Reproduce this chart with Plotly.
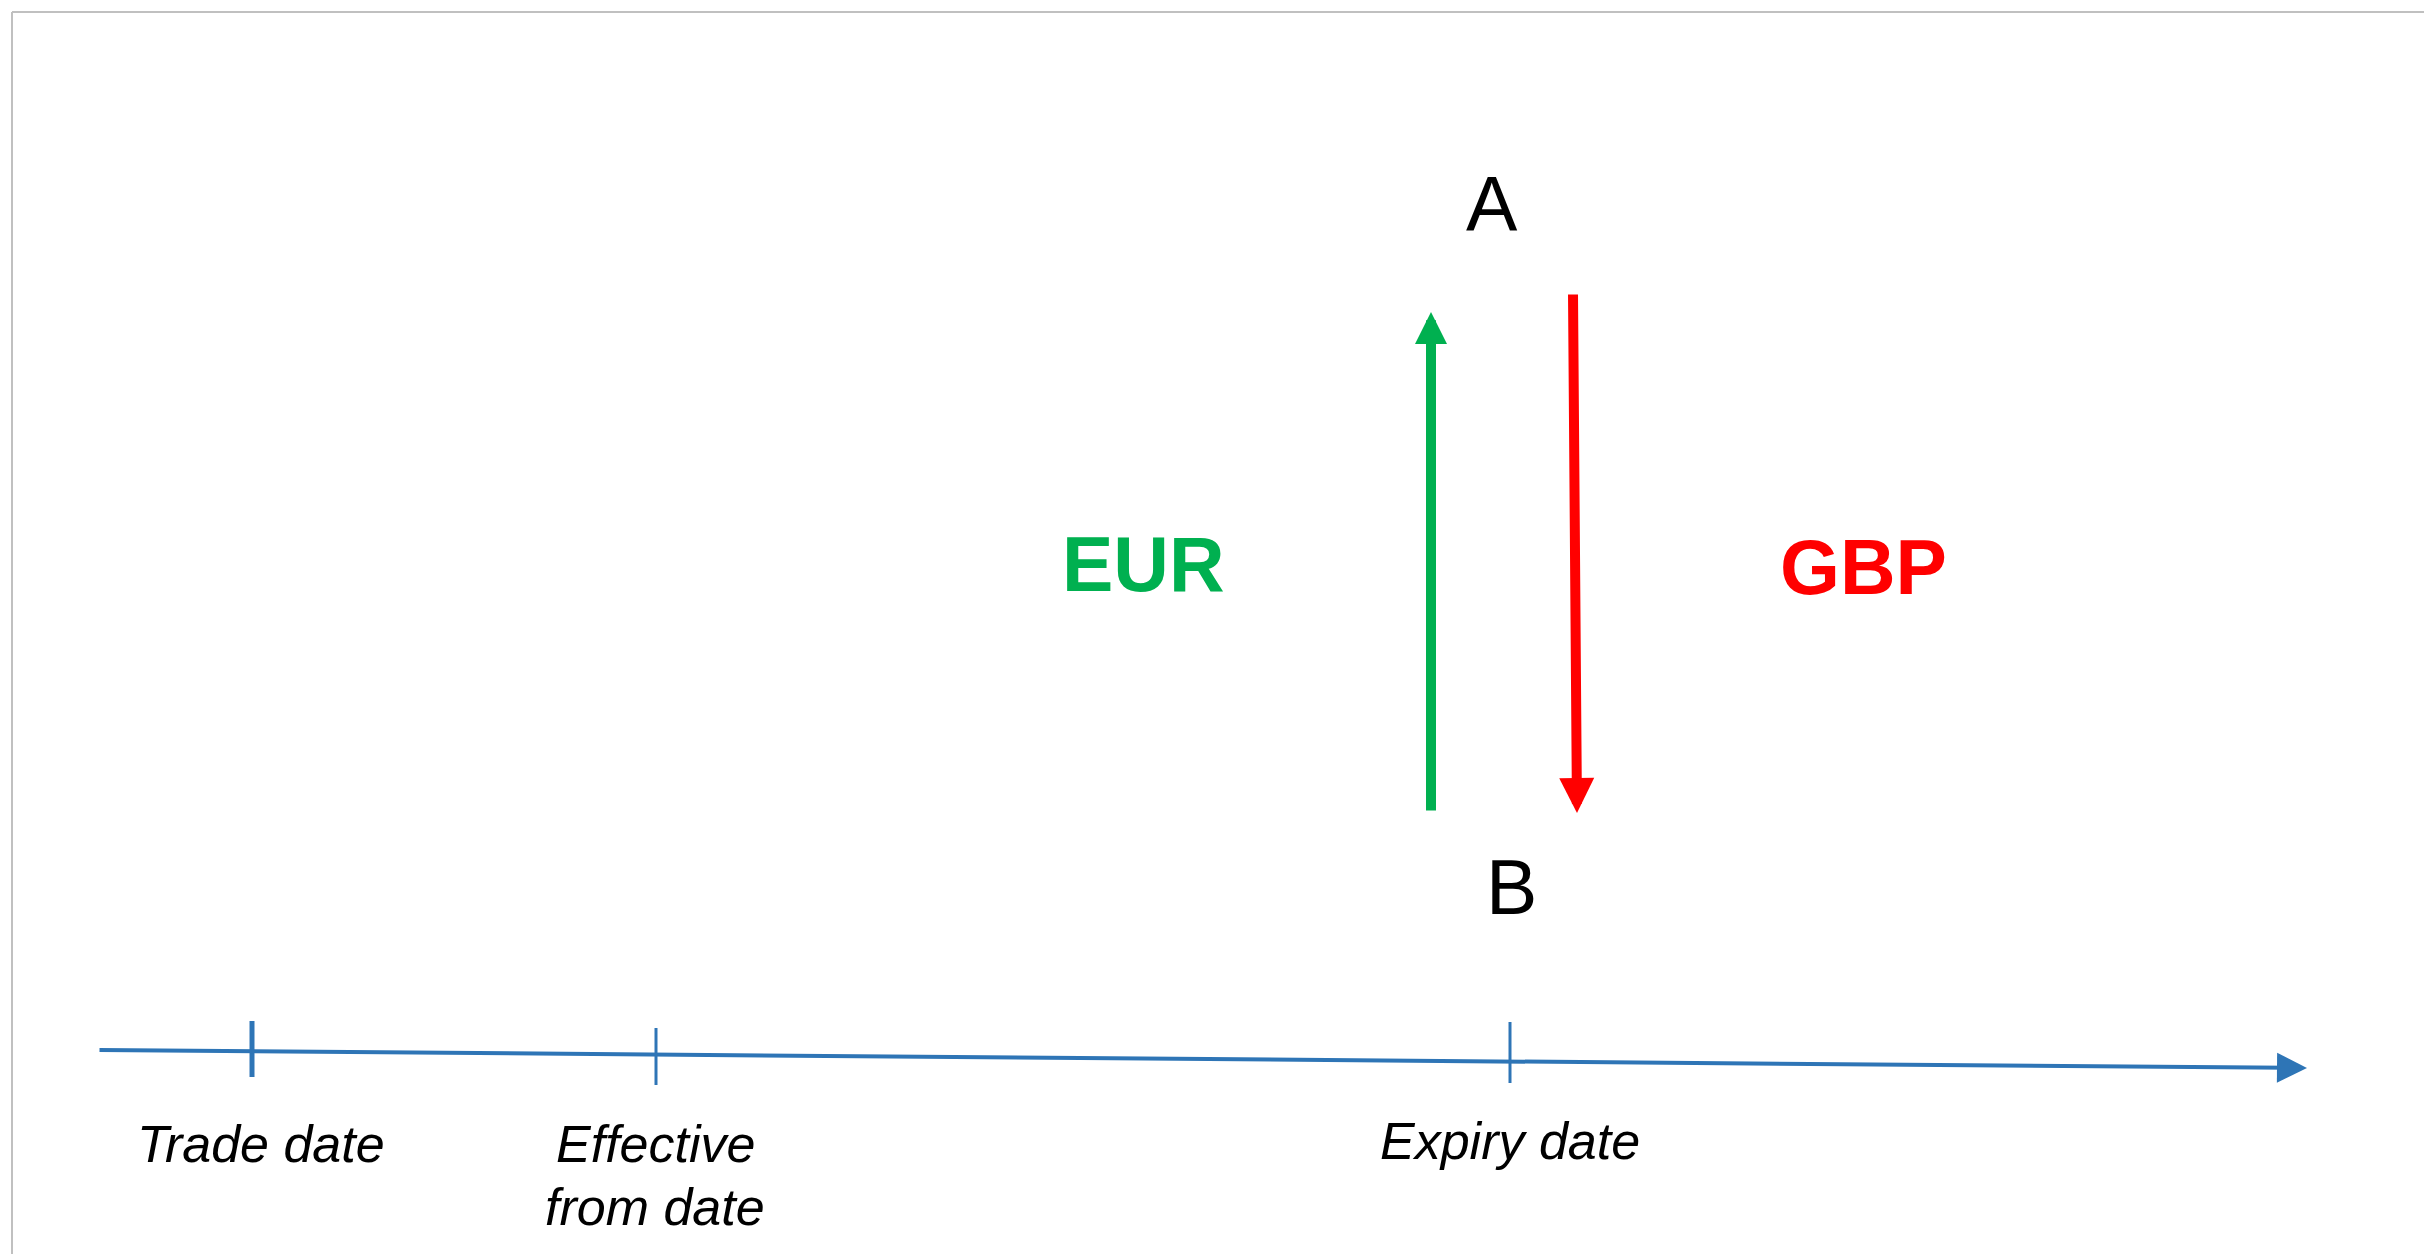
import plotly.graph_objects as go

W, H = 2424, 1254

# ---- timeline (diagram coordinates, y grows downward) ----
timeline_x = [98, 2307]
timeline_y = [1050, 1068]
timeline_color = "#2E75B6"

event_labels = ["Trade date", "Effective<br>from date", "Expiry date"]
event_x = [252, 656, 1510]
event_tick_top = [1021, 1028, 1022]
event_tick_bottom = [1077, 1085, 1083]
event_tick_width = [5, 3, 3]
label_x = [261, 655, 1510]
label_top = [1113, 1113, 1110]
label_line_step = 63

# ---- cash flows at expiry ----
party_names = ["A", "B"]
party_x = [1492, 1511]
party_y = [204, 887]

flow_ccy = ["EUR", "GBP"]
flow_colors = ["#00B050", "#FF0000"]
flow_tail_x = [1431, 1573]
flow_tail_y = [812, 293]
flow_head_x = [1431, 1577]
flow_head_y = [312, 813]
flow_head_size = [0.64, 0.7]
ccy_label_x = [1143, 1863]
ccy_label_y = [564, 567]

fig = go.Figure()

# event ticks
for xv, t, b, w in zip(event_x, event_tick_top, event_tick_bottom, event_tick_width):
    fig.add_trace(go.Scatter(x=[xv, xv], y=[t, b], mode="lines",
                             line=dict(color=timeline_color, width=w),
                             hoverinfo="skip", showlegend=False))

annotations = []
# timeline arrow
annotations.append(dict(x=timeline_x[1], y=timeline_y[1], ax=timeline_x[0], ay=timeline_y[0],
                        xref="x", yref="y", axref="x", ayref="y", text="",
                        showarrow=True, arrowhead=2, arrowwidth=4, arrowsize=1.5,
                        arrowcolor=timeline_color, standoff=0, startstandoff=0))
# event labels (each line placed separately for tighter line spacing)
for xv, yv, lab in zip(label_x, label_top, event_labels):
    for i, line in enumerate(lab.split("<br>")):
        annotations.append(dict(x=xv, y=yv + i * label_line_step, xref="x", yref="y",
                                text=line, showarrow=False,
                                xanchor="center", yanchor="top", align="center",
                                font=dict(family="Liberation Sans, Arial", size=52,
                                          color="black", style="italic")))
# flow arrows
for hx, hy, tx, ty, c, s in zip(flow_head_x, flow_head_y, flow_tail_x, flow_tail_y,
                                flow_colors, flow_head_size):
    annotations.append(dict(x=hx, y=hy, ax=tx, ay=ty, xref="x", yref="y", axref="x", ayref="y",
                            text="", showarrow=True, arrowhead=2, arrowwidth=10, arrowsize=s,
                            arrowcolor=c, standoff=0, startstandoff=0))
# currency labels
for xv, yv, lab, c in zip(ccy_label_x, ccy_label_y, flow_ccy, flow_colors):
    annotations.append(dict(x=xv, y=yv, xref="x", yref="y", text="<b>%s</b>" % lab,
                            showarrow=False, xanchor="center", yanchor="middle",
                            font=dict(family="Liberation Sans, Arial", size=77, color=c)))
# party labels
for xv, yv, lab in zip(party_x, party_y, party_names):
    annotations.append(dict(x=xv, y=yv, xref="x", yref="y", text=lab, showarrow=False,
                            xanchor="center", yanchor="middle",
                            font=dict(family="Liberation Sans, Arial", size=77, color="black")))

# frame lines (top and left)
shapes = [
    dict(type="line", xref="x", yref="y", x0=12, x1=W, y0=12, y1=12,
         line=dict(color="#C0C0C0", width=2)),
    dict(type="line", xref="x", yref="y", x0=12, x1=12, y0=12, y1=H,
         line=dict(color="#C0C0C0", width=2)),
]

fig.update_layout(
    width=W, height=H,
    margin=dict(l=0, r=0, t=0, b=0),
    paper_bgcolor="white", plot_bgcolor="white",
    xaxis=dict(range=[0, W], visible=False, fixedrange=True),
    yaxis=dict(range=[H, 0], visible=False, fixedrange=True),
    annotations=annotations, shapes=shapes, showlegend=False,
)

fig.write_html("out.html", config={"displayModeBar": False},
               post_script="document.body.style.margin='0';document.body.style.overflow='hidden';")
